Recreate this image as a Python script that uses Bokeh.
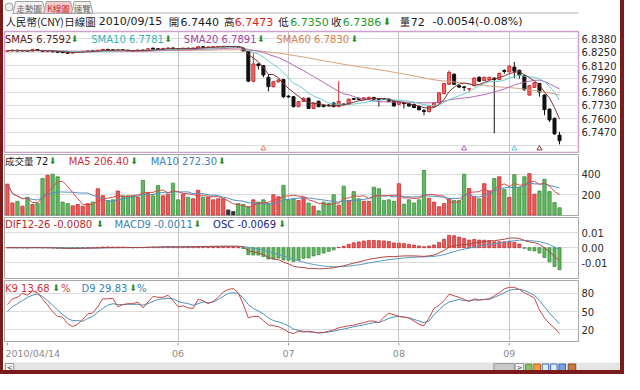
import numpy as np
import pandas as pd
from bokeh.plotting import figure
from bokeh.models import Range1d, FixedTicker, NumeralTickFormatter, Grid, Div
from bokeh.layouts import column, row
from bokeh.embed import file_html
from bokeh.resources import INLINE
from bokeh.core.properties import value

# ------------------------------------------------------------------ data
month_ticks = [0, 34, 56, 78, 100]
month_labels = ["2010/04/14", "06", "07", "08", "09"]
price_ticks = [6.8380, 6.8250, 6.8120, 6.7990, 6.7860, 6.7730, 6.7600, 6.7470]
price_extra_grid = [6.7340]
vol_ticks = [200, 400]
macd_ticks = [-0.01, 0.0, 0.01]
kd_ticks = [20, 50, 80]

opens = [6.8258, 6.8262, 6.8270, 6.8260, 6.8268, 6.8262, 6.8276, 6.8268, 6.8256, 6.8266,
         6.8258, 6.8254, 6.8250, 6.8242, 6.8248, 6.8254, 6.8258, 6.8264, 6.8258, 6.8268,
         6.8278, 6.8274, 6.8266, 6.8274, 6.8270, 6.8266, 6.8262, 6.8272, 6.8268, 6.8290,
         6.8284, 6.8280, 6.8286, 6.8292, 6.8284, 6.8280, 6.8290, 6.8284, 6.8290, 6.8304,
         6.8296, 6.8298, 6.8300, 6.8302, 6.8306, 6.8304, 6.8306, 6.8286, 6.8255, 6.7968,
         6.8135, 6.8119, 6.8005, 6.7914, 6.7962, 6.7983, 6.7822, 6.7816, 6.7719, 6.7771,
         6.7801, 6.7701, 6.7771, 6.7732, 6.7735, 6.7755, 6.7719, 6.7745, 6.7741, 6.7798,
         6.7801, 6.7788, 6.7792, 6.7808, 6.7796, 6.7798, 6.7792, 6.7771, 6.7741, 6.7760,
         6.7746, 6.7741, 6.7719, 6.7680, 6.7671, 6.7719, 6.7755, 6.7846, 6.7937, 6.8035,
         6.7923, 6.7912, 6.7890, 6.7923, 6.8005, 6.7974, 6.7983, 6.7998, 6.7983, 6.8072,
         6.8059, 6.8105, 6.8074, 6.8023, 6.7832, 6.7907, 6.7944, 6.7832, 6.7695, 6.7605,
         6.7440]
highs = [6.8268, 6.8274, 6.8274, 6.8272, 6.8272, 6.8282, 6.8280, 6.8272, 6.8270, 6.8270,
         6.8262, 6.8258, 6.8254, 6.8254, 6.8260, 6.8264, 6.8268, 6.8268, 6.8274, 6.8282,
         6.8282, 6.8278, 6.8278, 6.8278, 6.8274, 6.8270, 6.8276, 6.8276, 6.8288, 6.8294,
         6.8288, 6.8292, 6.8296, 6.8296, 6.8288, 6.8294, 6.8294, 6.8296, 6.8308, 6.8308,
         6.8306, 6.8308, 6.8310, 6.8312, 6.8310, 6.8308, 6.8310, 6.8290, 6.8262, 6.8241,
         6.8144, 6.8125, 6.8035, 6.7968, 6.7990, 6.7990, 6.7828, 6.7822, 6.7775, 6.7810,
         6.7808, 6.7760, 6.7778, 6.7738, 6.7740, 6.7760, 6.7968, 6.7750, 6.7798, 6.7805,
         6.7806, 6.7810, 6.7815, 6.7816, 6.7800, 6.7803, 6.7798, 6.7776, 6.7768, 6.7765,
         6.7752, 6.7748, 6.7725, 6.7695, 6.7730, 6.7762, 6.7860, 6.7950, 6.8074, 6.8045,
         6.7930, 6.7923, 6.7900, 6.8005, 6.8015, 6.8012, 6.8010, 6.8005, 6.8050, 6.8085,
         6.8125, 6.8155, 6.8080, 6.8030, 6.7930, 6.7960, 6.7950, 6.7840, 6.7700, 6.7612,
         6.7473]
lows = [6.8252, 6.8258, 6.8258, 6.8256, 6.8254, 6.8258, 6.8262, 6.8254, 6.8250, 6.8250,
        6.8246, 6.8242, 6.8236, 6.8238, 6.8244, 6.8250, 6.8254, 6.8254, 6.8254, 6.8264,
        6.8268, 6.8262, 6.8262, 6.8264, 6.8258, 6.8256, 6.8258, 6.8262, 6.8264, 6.8278,
        6.8274, 6.8276, 6.8282, 6.8262, 6.8274, 6.8276, 6.8280, 6.8280, 6.8286, 6.8292,
        6.8292, 6.8294, 6.8296, 6.8298, 6.8300, 6.8298, 6.8294, 6.8258, 6.7958, 6.7953,
        6.8080, 6.8005, 6.7868, 6.7905, 6.7955, 6.7801, 6.7805, 6.7712, 6.7712, 6.7765,
        6.7695, 6.7695, 6.7712, 6.7712, 6.7720, 6.7712, 6.7712, 6.7730, 6.7735, 6.7785,
        6.7780, 6.7782, 6.7788, 6.7780, 6.7719, 6.7785, 6.7765, 6.7719, 6.7735, 6.7701,
        6.7719, 6.7705, 6.7680, 6.7635, 6.7660, 6.7712, 6.7748, 6.7840, 6.7930, 6.7930,
        6.7900, 6.7871, 6.7862, 6.7918, 6.7960, 6.7968, 6.7978, 6.7459, 6.7978, 6.8040,
        6.8050, 6.7998, 6.7992, 6.7875, 6.7825, 6.7900, 6.7816, 6.7635, 6.7568, 6.7445,
        6.7350]
closes = [6.8265, 6.8270, 6.8262, 6.8268, 6.8258, 6.8278, 6.8266, 6.8258, 6.8266, 6.8254,
          6.8250, 6.8246, 6.8240, 6.8250, 6.8256, 6.8260, 6.8264, 6.8258, 6.8270, 6.8278,
          6.8272, 6.8266, 6.8274, 6.8268, 6.8262, 6.8260, 6.8272, 6.8266, 6.8284, 6.8282,
          6.8278, 6.8288, 6.8292, 6.8282, 6.8278, 6.8290, 6.8284, 6.8292, 6.8304, 6.8296,
          6.8302, 6.8304, 6.8306, 6.8308, 6.8306, 6.8304, 6.8298, 6.8264, 6.7968, 6.8135,
          6.8119, 6.8028, 6.7914, 6.7962, 6.7980, 6.7816, 6.7814, 6.7719, 6.7768, 6.7801,
          6.7701, 6.7755, 6.7719, 6.7719, 6.7728, 6.7719, 6.7771, 6.7738, 6.7792, 6.7790,
          6.7788, 6.7805, 6.7810, 6.7792, 6.7790, 6.7790, 6.7771, 6.7725, 6.7762, 6.7748,
          6.7725, 6.7710, 6.7689, 6.7672, 6.7725, 6.7755, 6.7853, 6.7944, 6.8053, 6.7937,
          6.7910, 6.7905, 6.7895, 6.7998, 6.7968, 6.8005, 6.8005, 6.7983, 6.8044, 6.8062,
          6.8113, 6.8065, 6.8028, 6.7883, 6.7923, 6.7953, 6.7862, 6.7689, 6.7589, 6.7453,
          6.7386]
volumes = [305, 119, 135, 88, 175, 104, 113, 361, 392, 402,
           377, 128, 113, 91, 104, 88, 113, 128, 259, 190,
           144, 150, 237, 190, 190, 190, 175, 340, 221, 190,
           290, 190, 206, 314, 150, 206, 175, 160, 244, 175,
           175, 150, 160, 160, 51, 35, 113, 104, 82, 150,
           128, 150, 113, 200, 181, 293, 150, 160, 144, 175,
           119, 88, 42, 128, 119, 200, 98, 284, 144, 231,
           160, 135, 135, 274, 259, 144, 150, 135, 309, 107,
           150, 119, 150, 439, 166, 128, 82, 113, 160, 144,
           144, 402, 262, 184, 160, 309, 237, 361, 377, 253,
           175, 398, 274, 377, 407, 206, 237, 352, 231, 123,
           72]
k9 = [61.5, 71, 73.5, 80, 77, 84, 81, 71, 60.5, 50,
      42, 40.6, 30, 25, 29, 37, 46, 47.4, 58, 71,
      71, 72, 58, 61.5, 63, 63, 65.7, 56, 65.7, 75,
      73.5, 73.5, 77, 68, 58, 59.4, 56, 55, 70, 68,
      63, 66.7, 73.5, 82.4, 86.6, 88, 81, 61.5, 39.5, 42,
      42, 35, 28, 26.5, 25, 21, 16, 13.4, 17.6, 16,
      17.6, 16, 14.5, 15.5, 17.6, 19.7, 23, 25, 26.5, 27.5,
      30, 31.7, 34.3, 34.3, 31.7, 40.6, 47.4, 44.8, 42, 40.6,
      39.5, 34.3, 29, 26.5, 39.5, 55, 60.5, 68, 78.7, 76,
      73.5, 70, 66.7, 71, 69, 70, 71, 76, 81, 87.6,
      90, 90, 86.6, 81, 77, 72, 52.6, 39.5, 30, 23,
      13.68]
d9 = [50, 58, 63, 68, 73.5, 77, 79, 75, 68, 60.5,
      52.6, 45, 38.5, 35, 35, 34, 38.5, 42, 49, 55,
      60.5, 63, 61.5, 61.5, 62, 62, 62, 60.5, 63, 66.7,
      70, 71, 72, 71, 66.7, 64.6, 63, 60.5, 63, 65.7,
      64.6, 65.7, 70, 75, 80, 81, 80, 72, 61.5, 55,
      51, 46, 39.5, 35, 33, 30, 26.5, 21, 18.6, 17.6,
      16, 16, 15, 15, 16, 17.6, 19.7, 21, 23, 25,
      26.5, 28, 30, 31.7, 31.7, 35, 38.5, 41, 42, 41,
      39.5, 37, 34.3, 31.7, 34.3, 45, 52.6, 60.5, 65.7, 68,
      70, 68, 68, 69, 69, 70, 70, 73.5, 77, 81,
      85, 86.6, 86.6, 85, 81, 77, 68, 58, 47.4, 38.5,
      29.83]
signal_idx = [51, 91, 101, 106]

tab_labels = ["走勢圖", "K線圖", "速覽"]
header_parts = [("人民幣(CNY)", "black", 4), ("日線圖", "black", 69), ("2010/09/15", "black", 107),
                ("開", "black", 184), ("6.7440", "black", 197), ("高", "black", 245),
                ("6.7473", "hred", 257), ("低", "black", 305), ("6.7350", "green", 318),
                ("收", "black", 363), ("6.7386", "green", 376), ("⬇", "arrow", 420),
                ("量", "black", 439), ("72", "black", 451), ("-0.0054(-0.08%)", "black", 475)]
price_legend = [("SMA5 6.7592", "sma5", 4.5), ("⬇", "arrow", 72), ("SMA10 6.7781", "sma10", 93),
                ("⬇", "arrow", 168), ("SMA20 6.7891", "sma20", 188), ("⬇", "arrow", 263),
                ("SMA60 6.7830", "sma60", 283), ("⬇", "arrow", 359)]
vol_legend = [("成交量", "black", 4.5), ("72", "black", 36), ("⬇", "arrow", 49.5),
              ("MA5 206.40", "red", 70), ("⬇", "arrow", 133), ("MA10 272.30", "blue", 154),
              ("⬇", "arrow", 223)]
macd_legend = [("DIF12-26 -0.0080", "dif", 4.5), ("⬇", "arrow", 98), ("MACD9 -0.0011", "blue", 117),
               ("⬇", "arrow", 198), ("OSC -0.0069", "navy", 218), ("⬇", "arrow", 285)]
kd_legend = [("K9 13.68", "red", 4.5), ("⬇", "arrow", 53), ("%", "red", 62),
             ("D9 29.83", "blue", 83), ("⬇", "arrow", 132), ("%", "blue", 140)]

# ------------------------------------------------------------------ style
COL = {"black": "#1a1a1a", "red": "#d83030", "hred": "#e02020", "green": "#1e9a1e",
       "arrow": "#1f8f1f", "sma5": "#5e2020", "sma10": "#36b8b8", "sma20": "#a2469e",
       "sma60": "#d8804e", "blue": "#3a82b0", "dif": "#b42a2a", "navy": "#1c1c88"}
LINE = {"sma5": "#7d3434", "sma10": "#6ccccc", "sma20": "#b466b4", "sma60": "#d4a27e",
        "vma5": "#d84a4a", "vma10": "#5090c0", "dif": "#b04444", "dea": "#5a9cc4",
        "k": "#c84848", "d": "#4a8fbc"}
UP_FILL, UP_LINE = "#ef6b6b", "#d02a2a"
DN_FILL, DN_LINE = "#101010", "#101010"
V_UP, V_UP_L = "#ec5a5a", "#c83030"
V_DN, V_DN_L = "#62b862", "#3c8c3c"
V_FLAT = "#333333"
SIG_COL = ["#e07a56", "#b262b2", "#5cc4d4", "#8a3a3a"]
HGRID, VGRID = "#dcdcdc", "#c4c4c4"
FONT = "DejaVu Sans"
CJK = "Noto Sans CJK TC"

CW = 617            # content width (between the frame strips)
FW = 574            # plot frame width
MBR = 42            # right border for the value axis
XS, XE = -0.58, 113.78
SCALE = FW / 589.0

# ------------------------------------------------------------------ derived series
o = np.array(opens); h = np.array(highs); l = np.array(lows); c = np.array(closes)
v = np.array(volumes, dtype=float)
idx = np.arange(len(c))
up = c > o
dn = c < o
cs = pd.Series(c)
sma5 = cs.rolling(5, min_periods=1).mean()
sma10 = cs.rolling(10, min_periods=1).mean()
sma20 = cs.rolling(20, min_periods=1).mean()
sma60 = cs.rolling(60, min_periods=1).mean()
vs = pd.Series(v)
vma5 = vs.rolling(5, min_periods=1).mean()
vma10 = vs.rolling(10, min_periods=1).mean()
ema12 = cs.ewm(span=12, adjust=False).mean()
ema26 = cs.ewm(span=26, adjust=False).mean()
dif = ema12 - ema26
dea = dif.ewm(span=9, adjust=False).mean()
osc = (dif - dea) * 2

xr = Range1d(XS, XE)


def is_cjk(text):
    return any(ord(ch) > 0x2E80 for ch in text)


def ref2x(refx):
    px = (refx - 4) * SCALE
    return XS + px * (XE - XS) / FW


def top_y(yr, frame_h, px):
    return yr.end - px * (yr.end - yr.start) / frame_h


def strip(height, y_top_down, bg="white"):
    p = figure(width=CW, height=height, x_range=Range1d(0, CW), y_range=Range1d(y_top_down, 0),
               output_backend="svg", toolbar_location=None, tools="", x_axis_location=None,
               y_axis_location=None, min_border=0, outline_line_color=None,
               background_fill_color=bg, border_fill_color=bg)
    p.grid.visible = False
    return p


def panel(height, yr, ticks, fmt, outline, grid_ticks):
    p = figure(width=CW, height=height, x_range=xr, y_range=yr, output_backend="svg",
               toolbar_location=None, tools="", x_axis_location=None, y_axis_location="right",
               min_border_left=1, min_border_right=MBR, min_border_top=1, min_border_bottom=1,
               background_fill_color="white", border_fill_color="white")
    for g in p.grid:
        g.visible = False
    p.add_layout(Grid(dimension=1, ticker=FixedTicker(ticks=grid_ticks), grid_line_color=HGRID))
    p.add_layout(Grid(dimension=0, ticker=FixedTicker(ticks=month_ticks[1:]), grid_line_color=VGRID))
    ax = p.yaxis[0]
    ax.ticker = FixedTicker(ticks=ticks)
    ax.formatter = NumeralTickFormatter(format=fmt)
    ax.major_label_text_font = FONT
    ax.major_label_text_font_size = "10px"
    ax.major_label_text_color = "#2a2a2a"
    ax.major_label_standoff = 3
    ax.major_tick_out = 0
    ax.major_tick_in = 0
    ax.minor_tick_out = 0
    ax.minor_tick_in = 0
    ax.axis_line_color = None
    p.outline_line_color = outline
    p.outline_line_width = 1
    return p


def legend(p, yr, frame_h, parts, py):
    y = top_y(yr, frame_h, py)
    for text, col, rx in parts:
        cj = is_cjk(text)
        arrow = text == "⬇"
        p.text(x=[ref2x(rx)], y=[y], text=[text], text_color=COL.get(col, col),
               text_font=value(CJK if cj else FONT),
               text_font_size="9px" if arrow else ("9.5px" if cj else "10px"),
               text_baseline="middle", text_align="left")


# ------------------------------------------------------------------ tabs + quote header
head = strip(30, 30)
head.scatter(x=[5], y=[6.5], size=8, fill_color="#eeeeee", line_color="#9a9a9a")
head.patches(xs=[[9, 12, 41, 44], [42, 45, 71, 74], [72, 75, 92, 95]],
             ys=[[13, 1, 1, 13]] * 3,
             fill_color=["#f0f0f0", "#f6caca", "#f0f0f0"], line_color="#a0a0a0")
head.text(x=[26.5, 58, 83.5], y=[7.2, 7.2, 7.2], text=tab_labels,
          text_color=["#666666", "#c02828", "#666666"], text_font=value(CJK),
          text_font_size="8.5px", text_align="center", text_baseline="middle")
head.segment(x0=[95], y0=[12.5], x1=[CW], y1=[12.5], line_color="#b0b0b0")
for text, col, rx in header_parts:
    cj = is_cjk(text)
    arrow = text == "⬇"
    head.text(x=[(rx - 3) * CW / 633.0], y=[21], text=[text], text_color=COL.get(col, col),
              text_font=value(CJK if cj else FONT),
              text_font_size="10px" if arrow else ("10.5px" if cj else "11px"),
              text_baseline="middle", text_align="left")

# ------------------------------------------------------------------ price panel
PH = 121
pyr = Range1d(6.72709, 6.84527)
pp = panel(PH + 2, pyr, price_ticks, "0.0000", "#cfa0cf", price_ticks + price_extra_grid)
pp.outline_line_width = 1.5
pp.segment(x0=idx, y0=h, x1=idx, y1=l,
           line_color=np.where(up, UP_LINE, DN_LINE).tolist(), line_width=1)
pp.vbar(x=idx, width=0.6, top=np.maximum(o, c), bottom=np.minimum(o, c),
        fill_color=np.where(up, UP_FILL, DN_FILL).tolist(),
        line_color=np.where(up, UP_LINE, DN_LINE).tolist(), line_width=1)
pp.line(idx, sma60, line_color=LINE["sma60"], line_width=1)
pp.line(idx, sma20, line_color=LINE["sma20"], line_width=1)
pp.line(idx, sma10, line_color=LINE["sma10"], line_width=1)
pp.line(idx, sma5, line_color=LINE["sma5"], line_width=1)
sig_y = top_y(pyr, PH, PH - 4)
pp.scatter(x=signal_idx, y=[sig_y] * len(signal_idx), marker="triangle", size=5,
           fill_color=None, line_color=SIG_COL, line_width=1)
legend(pp, pyr, PH, price_legend, 7.5)

# ------------------------------------------------------------------ volume panel
VH = 61
vyr = Range1d(-4, 596)
vp = panel(VH + 2, vyr, vol_ticks, "0", "#a8a8a8", vol_ticks)
vp.vbar(x=idx, width=0.66, top=v, bottom=0,
        fill_color=np.where(up, V_UP, np.where(dn, V_DN, V_FLAT)).tolist(),
        line_color=np.where(up, V_UP_L, np.where(dn, V_DN_L, V_FLAT)).tolist(), line_width=0.8)
vp.line(idx, vma10, line_color=LINE["vma10"], line_width=1)
vp.line(idx, vma5, line_color=LINE["vma5"], line_width=1)
legend(vp, vyr, VH, vol_legend, 6.8)

# ------------------------------------------------------------------ MACD panel
MH = 61
myr = Range1d(-0.0204, 0.0200)
mp = panel(MH + 2, myr, macd_ticks, "0.00", "#a8a8a8", macd_ticks)
pos = (osc >= 0).values
mp.vbar(x=idx, width=0.6, top=osc, bottom=0,
        fill_color=np.where(pos, V_UP, V_DN).tolist(),
        line_color=np.where(pos, V_UP_L, V_DN_L).tolist(), line_width=0.8)
mp.line(idx, dea, line_color=LINE["dea"], line_width=1)
mp.line(idx, dif, line_color=LINE["dif"], line_width=1)
legend(mp, myr, MH, macd_legend, 6.5)

# ------------------------------------------------------------------ KD panel
KH = 61
kyr = Range1d(0.5, 101.3)
kp = panel(KH + 2, kyr, kd_ticks, "0", "#a8a8a8", kd_ticks)
kp.line(idx, d9, line_color=LINE["d"], line_width=1)
kp.line(idx, k9, line_color=LINE["k"], line_width=1)
legend(kp, kyr, KH, kd_legend, 7.5)

# ------------------------------------------------------------------ date axis strip
da = figure(width=CW, height=18, x_range=xr, y_range=Range1d(18, 0), output_backend="svg",
            toolbar_location=None, tools="", x_axis_location=None, y_axis_location=None,
            min_border_left=1, min_border_right=MBR, min_border_top=0, min_border_bottom=0,
            outline_line_color=None, background_fill_color="white", border_fill_color="white")
da.grid.visible = False
da.segment(x0=month_ticks, y0=[0] * len(month_ticks), x1=month_ticks, y1=[3] * len(month_ticks),
           line_color="#9a9a9a")
da.text(x=month_ticks[:1], y=[10.5], text=month_labels[:1], x_offset=-2, text_font=value(FONT),
        text_font_size="9.5px", text_color="#8a8a8a", text_align="left", text_baseline="middle")
da.text(x=month_ticks[1:], y=[10.5] * (len(month_ticks) - 1), text=month_labels[1:],
        text_font=value(FONT), text_font_size="9.5px", text_color="#8a8a8a",
        text_align="center", text_baseline="middle")

# ------------------------------------------------------------------ scroll strip
sb = strip(10, 10, bg="#e4e4e4")
sb.quad(left=[1, 526, 549], right=[10, 548, 558], top=[1, 1, 1], bottom=[9, 9, 9],
        fill_color=["#f4f4f4", "#c8c8c8", "#f4f4f4"], line_color="#9a9a9a")
sb.text(x=[5.5, 553.5], y=[5, 5], text=["<", ">"], text_font=value(FONT), text_font_size="7px",
        text_align="center", text_baseline="middle", text_color="#333333")
sb.quad(left=[560, 569, 578, 587, 596, 606], right=[567, 576, 585, 594, 603, 614],
        top=[1.5] * 6, bottom=[8.5] * 6,
        fill_color=["#8cc06a", "#f2a040", "#dfe9f8", "#dfe9f8", "#7aa0d8", "#c87840"],
        line_color=["#5a9a3a", "#c86010", "#3a6ac0", "#3a6ac0", "#3a6ac0", "#8a4a20"])

# ------------------------------------------------------------------ assemble
FRAME = "#7a1a1a"
body = column(head, pp, vp, mp, kp, da, sb, spacing=0)
left = Div(text="", width=3, height=370, margin=0, styles={"background-color": FRAME})
right = Div(text="", width=4, height=370, margin=0, styles={"background-color": FRAME})
bottom = Div(text="", width=624, height=4, margin=0, styles={"background-color": FRAME})
root = column(row(left, body, right, spacing=0), bottom, spacing=0)

open("out.html", "w").write(file_html(root, INLINE))
